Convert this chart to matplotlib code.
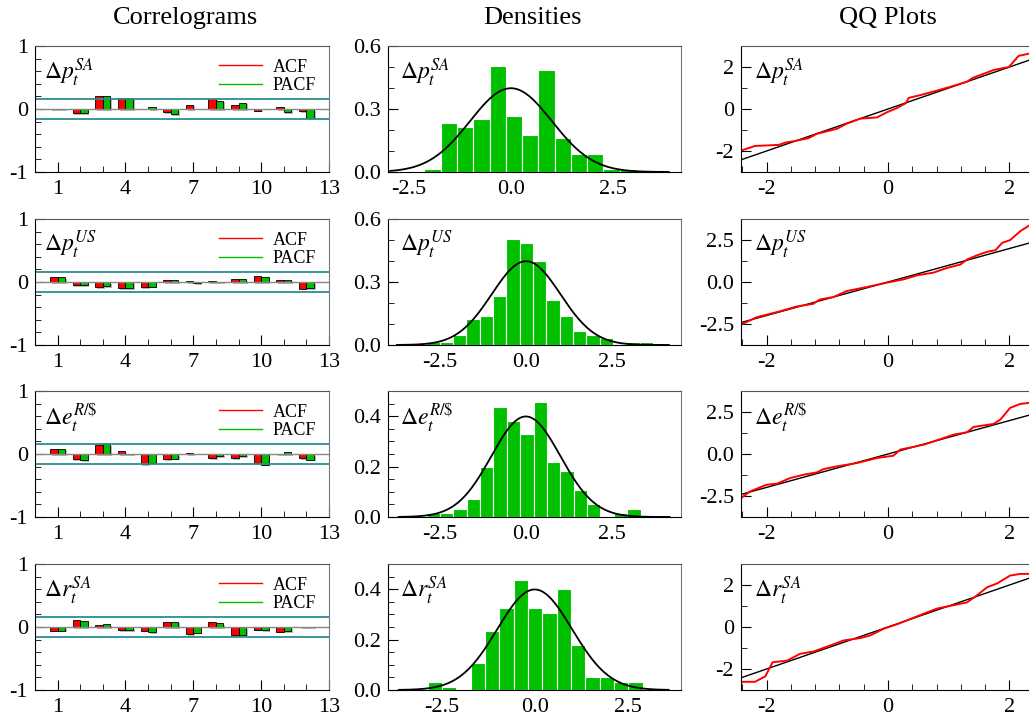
import numpy as np
import matplotlib
matplotlib.use('Agg')
import matplotlib.pyplot as plt
import matplotlib.patheffects as pe
from matplotlib.ticker import MultipleLocator, FormatStrFormatter

plt.rcParams['font.family'] = ['Liberation Serif', 'DejaVu Serif']
plt.rcParams['mathtext.fontset'] = 'stix'
plt.rcParams['axes.unicode_minus'] = False

labels = [r'$\Delta p_t^{SA}$', r'$\Delta p_t^{US}$', r'$\Delta e_t^{R/\$}$', r'$\Delta r_t^{SA}$']

# correlograms
lags = np.arange(1, 13)
acf = [
    [0.005, -0.063, 0.20, 0.173, -0.005, -0.052, 0.068, 0.162, 0.058, -0.025, 0.03, -0.037],
    [0.08, -0.047, -0.08, -0.10, -0.08, 0.037, 0.01, 0.02, 0.053, 0.09, 0.037, -0.105],
    [0.084, -0.078, 0.136, 0.042, -0.157, -0.078, 0.016, -0.063, -0.063, -0.147, 0.005, -0.063],
    [-0.058, 0.106, 0.037, -0.048, -0.058, 0.074, -0.111, 0.085, -0.127, -0.042, -0.074, 0.005],
]
pacf = [
    [0.005, -0.063, 0.20, 0.173, 0.03, -0.08, 0.0, 0.13, 0.10, 0.0, -0.047, -0.14],
    [0.08, -0.053, -0.063, -0.095, -0.074, 0.032, -0.015, 0.005, 0.042, 0.084, 0.037, -0.10],
    [0.084, -0.094, 0.157, 0.005, -0.141, -0.073, -0.005, -0.031, -0.031, -0.168, 0.026, -0.089],
    [-0.058, 0.095, 0.048, -0.053, -0.079, 0.085, -0.09, 0.063, -0.122, -0.053, -0.069, 0.005],
]
conf_band = 0.166

# densities (histograms of standardised residuals)
hist_start = [-2.11, -2.90, -2.88, -2.87]
hist_width = [0.397, 0.388, 0.388, 0.384]
hist_heights = [
    [0.016, 0.232, 0.216, 0.251, 0.505, 0.268, 0.177, 0.485, 0.161, 0.087, 0.087, 0.016, 0.016],
    [0.013, 0.013, 0.049, 0.124, 0.14, 0.231, 0.504, 0.488, 0.399, 0.214, 0.14, 0.069, 0.049, 0.032, 0.0, 0.013, 0.013],
    [0.016, 0.016, 0.033, 0.072, 0.20, 0.437, 0.38, 0.328, 0.455, 0.218, 0.182, 0.109, 0.053, 0.0, 0.016, 0.033],
    [0.033, 0.013, 0.0, 0.107, 0.233, 0.327, 0.435, 0.327, 0.307, 0.40, 0.18, 0.051, 0.051, 0.033, 0.033],
]
curve_range = [(-2.95, 3.85), (-3.76, 4.16), (-3.69, 4.17), (-3.64, 3.59)]
dens_xlim = [(-3.0, 4.15), (-4.02, 4.51), (-4.0, 4.5), (-3.93, 3.92)]
dens_ylim = [0.6, 0.6, 0.5, 0.5]

# QQ plots
qq_x = [
    [-2.42, -2.19, -1.80, -1.69, -1.53, -1.31, -1.17, -0.84, -0.68, -0.46, -0.18, -0.02, 0.15, 0.30, 0.34, 0.53, 0.81, 1.03, 1.30, 1.40, 1.58, 1.74, 1.99, 2.15, 2.33, 2.42],
    [-2.42, -2.16, -1.83, -1.50, -1.23, -1.12, -0.90, -0.68, -0.35, -0.02, 0.26, 0.48, 0.75, 0.97, 1.19, 1.30, 1.47, 1.63, 1.77, 1.88, 2.01, 2.18, 2.33, 2.42],
    [-2.42, -2.27, -2.00, -1.83, -1.61, -1.39, -1.17, -1.06, -0.84, -0.51, -0.18, 0.09, 0.20, 0.59, 0.92, 1.08, 1.30, 1.41, 1.74, 1.85, 2.01, 2.18, 2.33, 2.42],
    [-2.42, -2.19, -2.02, -1.90, -1.66, -1.45, -1.23, -0.95, -0.73, -0.46, -0.29, -0.07, 0.15, 0.48, 0.81, 1.08, 1.30, 1.47, 1.63, 1.80, 2.01, 2.18, 2.33, 2.42],
]
qq_y = [
    [-1.98, -1.76, -1.71, -1.60, -1.52, -1.39, -1.18, -0.94, -0.70, -0.46, -0.40, -0.16, 0.05, 0.29, 0.53, 0.66, 0.88, 1.06, 1.30, 1.49, 1.68, 1.86, 2.00, 2.53, 2.64, 2.66],
    [-2.54, -2.10, -1.80, -1.46, -1.30, -1.04, -0.90, -0.54, -0.30, -0.04, 0.16, 0.40, 0.56, 0.84, 1.04, 1.34, 1.60, 1.80, 1.90, 2.34, 2.50, 3.04, 3.38, 3.45],
    [-2.64, -2.24, -1.84, -1.78, -1.44, -1.24, -1.10, -0.90, -0.74, -0.54, -0.24, -0.10, 0.26, 0.56, 0.96, 1.16, 1.30, 1.62, 1.80, 2.06, 2.76, 3.00, 3.06, 3.08],
    [-2.61, -2.61, -2.35, -1.68, -1.60, -1.28, -1.17, -0.88, -0.64, -0.53, -0.40, -0.08, 0.13, 0.51, 0.88, 1.04, 1.17, 1.52, 1.89, 2.08, 2.45, 2.53, 2.53, 2.53],
]
qq_ylim = [3.0, 3.76, 3.77, 3.0]
qq_major = [2, 2.5, 2.5, 2]
qq_minor = [1, 1.25, 1.25, 1]

RED = '#ff0000'
GREEN = '#00c000'
TEAL = '#2a8f92'
FS = 16


def px_axes(fig, left, top, right, bottom):
    W, H = 1029.0, 720.0
    return fig.add_axes([left / W, 1 - bottom / H, (right - left) / W, (bottom - top) / H])


def style(ax):
    ax.tick_params(which='both', direction='in', labelsize=FS, top=False, right=False)
    ax.tick_params(which='major', length=7)
    ax.tick_params(which='minor', length=4)
    ax.tick_params(axis='x', which='both', pad=6)
    ax.tick_params(axis='y', which='both', pad=5)
    ax.spines['top'].set_color('#555555')
    ax.spines['right'].set_color('#777777')
    ax.spines['right'].set_linewidth(0.8)


def correlogram(ax, i):
    shadow = [pe.SimplePatchShadow(offset=(1.2, -1.2), shadow_rgbFace='#888888', alpha=0.6), pe.Normal()]
    ax.axhline(0, color='#888888', lw=1)
    ax.axhline(conf_band, color=TEAL, lw=1.3)
    ax.axhline(-conf_band, color=TEAL, lw=1.3)
    b1 = ax.bar(lags, acf[i], width=-0.33, align='edge', color=RED, edgecolor='black', lw=0.6)
    b2 = ax.bar(lags, pacf[i], width=0.33, align='edge', color=GREEN, edgecolor='black', lw=0.6)
    for p in list(b1) + list(b2):
        p.set_path_effects(shadow)
    ax.plot([], [], color=RED, lw=1, label='ACF')
    ax.plot([], [], color=GREEN, lw=1, label='PACF')
    ax.legend(loc='upper right', frameon=False, fontsize=13, handlelength=2.4,
              borderaxespad=0.3, labelspacing=0.1, handletextpad=0.6)
    ax.set_xlim(0, 13)
    ax.set_ylim(-1, 1)
    ax.set_xticks([1, 4, 7, 10, 13])
    ax.xaxis.set_minor_locator(MultipleLocator(1))
    ax.set_yticks([-1, 0, 1])
    ax.yaxis.set_minor_locator(MultipleLocator(0.2))
    ax.text(0.03, 0.92, labels[i], transform=ax.transAxes, va='top', ha='left', fontsize=17)


def density(ax, i):
    h = hist_heights[i]
    edges = hist_start[i] + hist_width[i] * np.arange(len(h))
    ax.bar(edges, h, width=hist_width[i], align='edge', color=GREEN, edgecolor='white', lw=0.8)
    lo, hi = curve_range[i]
    xs = np.linspace(lo, hi, 300)
    ax.plot(xs, np.exp(-xs ** 2 / 2) / np.sqrt(2 * np.pi), color='black', lw=1.3)
    ax.set_xlim(*dens_xlim[i])
    ax.set_ylim(0, dens_ylim[i])
    ax.set_xticks([-2.5, 0, 2.5])
    ax.tick_params(axis='x', which='major', length=0)
    ax.xaxis.set_major_formatter(FormatStrFormatter('%.1f'))
    if dens_ylim[i] > 0.55:
        ax.set_yticks([0, 0.3, 0.6])
        ax.yaxis.set_minor_locator(MultipleLocator(0.1))
    else:
        ax.set_yticks([0, 0.2, 0.4])
        ax.yaxis.set_minor_locator(MultipleLocator(0.05))
    ax.yaxis.set_major_formatter(FormatStrFormatter('%.1f'))
    ax.text(0.04, 0.92, labels[i], transform=ax.transAxes, va='top', ha='left', fontsize=17)


def qqplot(ax, i):
    ax.plot([-2.5, 2.5], [-2.5, 2.5], color='black', lw=1)
    ax.plot(qq_x[i], qq_y[i], color=RED, lw=1.4)
    ax.set_xlim(-2.42, 2.42)
    ax.set_ylim(-qq_ylim[i], qq_ylim[i])
    ax.set_xticks([-2, 0, 2])
    ax.xaxis.set_minor_locator(MultipleLocator(0.4))
    m = qq_major[i]
    ax.set_yticks([-m, 0, m])
    ax.yaxis.set_minor_locator(MultipleLocator(qq_minor[i]))
    if m == 2.5:
        ax.yaxis.set_major_formatter(FormatStrFormatter('%.1f'))
    ax.text(0.044, 0.92, labels[i], transform=ax.transAxes, va='top', ha='left', fontsize=17)


def main():
    fig = plt.figure(figsize=(10.29, 7.2), dpi=100)
    tops = [46, 219, 391, 564]
    for i, t in enumerate(tops):
        b = t + 126
        ax1 = px_axes(fig, 35, t, 329, b)
        style(ax1)
        correlogram(ax1, i)
        ax2 = px_axes(fig, 388, t, 681, b)
        style(ax2)
        density(ax2, i)
        ax3 = px_axes(fig, 741, t, 1035, b)
        style(ax3)
        qqplot(ax3, i)

    fig.text(185 / 1029, 1 - 18 / 720, 'Correlograms', ha='center', va='center', fontsize=19)
    fig.text(532 / 1029, 1 - 18 / 720, 'Densities', ha='center', va='center', fontsize=19)
    fig.text(888 / 1029, 1 - 18 / 720, 'QQ Plots', ha='center', va='center', fontsize=19)

    fig.savefig('out.png', dpi=100)


if __name__ == '__main__':
    main()
